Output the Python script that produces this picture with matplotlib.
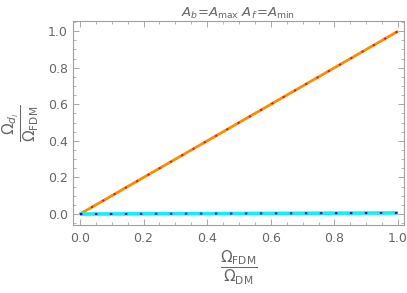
import numpy as np
import matplotlib.pyplot as plt
from matplotlib.ticker import MultipleLocator

# fraction of FDM in DM (x axis)
frac_fdm = [0.0, 1.0]
# relic fraction for the two states
omega_light = [0.0, 1.0]
omega_heavy = [0.0, 0.006]

gray = "#666666"
plt.rcParams["font.family"] = "DejaVu Sans"
plt.rcParams["mathtext.fontset"] = "dejavusans"

fig = plt.figure(figsize=(4.07, 2.93), dpi=100)
ax = fig.add_axes([0.179, 0.232, 0.814, 0.696])

ax.plot(frac_fdm, omega_light, color="#ff8c00", lw=2.0, solid_capstyle="butt")
ax.plot(frac_fdm, omega_light, color="#e8101a", lw=1.3, ls=(0, (1.2, 6)))
ax.plot(frac_fdm, omega_heavy, color="#10f0f8", lw=2.6, solid_capstyle="butt")
ax.plot(frac_fdm, omega_heavy, color="#1010d0", lw=1.5, ls=(0, (1.2, 6)))

ax.set_xlim(-0.022, 1.019)
ax.set_ylim(-0.06, 1.055)
ax.xaxis.set_major_locator(MultipleLocator(0.2))
ax.xaxis.set_minor_locator(MultipleLocator(0.05))
ax.yaxis.set_major_locator(MultipleLocator(0.2))
ax.yaxis.set_minor_locator(MultipleLocator(0.05))
ax.xaxis.set_major_formatter(plt.FormatStrFormatter("%.1f"))
ax.yaxis.set_major_formatter(plt.FormatStrFormatter("%.1f"))
ax.tick_params(which="both", direction="in", top=True, right=True,
               color="#999999", labelcolor=gray, labelsize=9)
ax.tick_params(which="major", length=4, width=0.6)
ax.tick_params(which="minor", length=2.2, width=0.5)
ax.tick_params(axis="x", pad=5)
for s in ax.spines.values():
    s.set_color("#a0a0a0")
    s.set_linewidth(0.8)

ax.set_title(r"$A_b$=$A_{\rm max}$ $A_{f\,}$=$A_{\rm min}$", color=gray, fontsize=9.5, pad=2)
ax.set_xlabel(r"$\dfrac{\Omega_{\rm FDM}}{\Omega_{\rm DM}}$", color=gray, fontsize=11, labelpad=3)
ax.set_ylabel(r"$\dfrac{\Omega_{d_l}}{\Omega_{\rm FDM}}$", color=gray, fontsize=11, labelpad=5)

fig.savefig("out.png", dpi=100)
